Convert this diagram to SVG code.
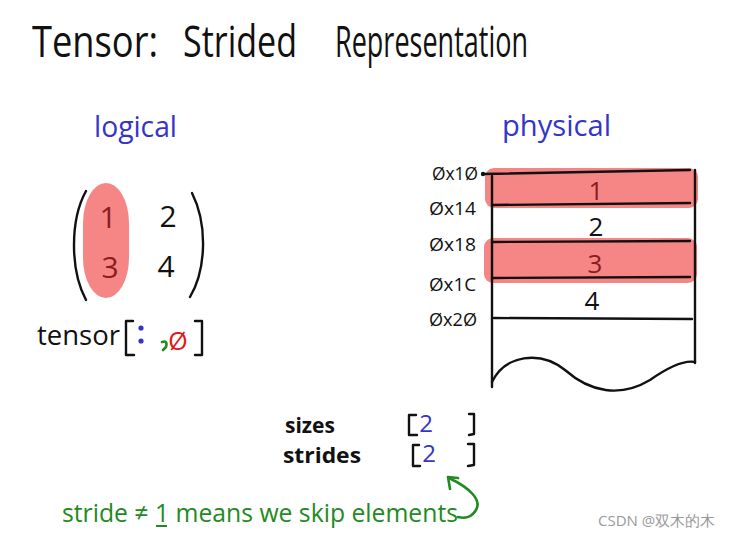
<svg xmlns="http://www.w3.org/2000/svg" width="750" height="538" viewBox="0 0 750 538">
<style>
text{font-family:"Open Sans","Liberation Sans",sans-serif}
.ink{fill:none;stroke:#111;stroke-width:2.4;stroke-linecap:round;stroke-linejoin:round}
.blue{fill:#3535c8}
.dred{fill:#8a1c1c}
.blk{fill:#111}
.grn{fill:#238a23}
.hl{fill:#f57878;opacity:0.9}
.addr{font-size:19px;fill:#111}
.ttl{font-size:44px;fill:#111}
</style>
<rect width="750" height="538" fill="#fff"/>
<g id="title">
<text x="32" y="57" class="ttl" textLength="126" lengthAdjust="spacingAndGlyphs">Tensor:</text>
<text x="183" y="57" class="ttl" textLength="114" lengthAdjust="spacingAndGlyphs">Strided</text>
<text x="335" y="57" class="ttl" textLength="193" lengthAdjust="spacingAndGlyphs">Representation</text>
</g>
<text x="94" y="137" font-size="30" textLength="83" lengthAdjust="spacingAndGlyphs" class="blue">logical</text>
<text x="502" y="136" font-size="30" textLength="109" lengthAdjust="spacingAndGlyphs" class="blue">physical</text>
<g id="logical">
<rect class="hl" x="83" y="183" width="46" height="115" rx="23" ry="40"/>
<path class="ink" d="M86,191 C70,220 70,270 86,300"/>
<path class="ink" d="M192,193 C208,225 206,270 190,297"/>
<text x="108" y="228" font-size="30" text-anchor="middle" class="dred">1</text>
<text x="168" y="227" font-size="30" text-anchor="middle" class="blk">2</text>
<text x="110" y="278" font-size="30" text-anchor="middle" class="dred">3</text>
<text x="166" y="277" font-size="30" text-anchor="middle" class="blk">4</text>
<text x="37" y="345" font-size="27" textLength="83" lengthAdjust="spacingAndGlyphs" class="blk">tensor</text>
<path class="ink" d="M133,321 L126,321 L126,355 L134,355"/>
<circle cx="141" cy="328" r="2.6" fill="#3535c8"/>
<circle cx="141" cy="341" r="2.6" fill="#3535c8"/>
<path d="M162,342 Q168,340 166,347 L163,350" fill="none" stroke="#238a23" stroke-width="2.6" stroke-linecap="round"/>
<text x="178" y="350" font-size="25" text-anchor="middle" fill="#e01818">Ø</text>
<path class="ink" d="M195,321 L202,321 L202,355 L195,355"/>
</g>
<g id="physical">
<rect class="hl" x="485" y="168" width="213" height="40" rx="9"/>
<rect class="hl" x="484" y="238" width="213" height="45" rx="9"/>
<path class="ink" d="M483,174 L690,170"/>
<circle cx="483" cy="174" r="2.2" fill="#111"/>
<path class="ink" d="M492,176 L492,387"/>
<path class="ink" d="M695,170 L695,363"/>
<path class="ink" d="M492,205 L690,203"/>
<path class="ink" d="M492,242 L690,241"/>
<path class="ink" d="M492,278 L690,277"/>
<path class="ink" d="M494,318 L692,319"/>
<path class="ink" d="M492,382 C505,355 540,350 565,370 C590,392 620,398 650,380 C670,366 685,360 695,362"/>
<text x="596" y="200" font-size="26" text-anchor="middle" class="dred">1</text>
<text x="596" y="236" font-size="26" text-anchor="middle" class="blk">2</text>
<text x="595" y="273" font-size="26" text-anchor="middle" class="dred">3</text>
<text x="592" y="310" font-size="26" text-anchor="middle" class="blk">4</text>
<text x="432" y="180" class="addr" textLength="46" lengthAdjust="spacingAndGlyphs">Øx1Ø</text>
<text x="429" y="215" class="addr" textLength="47" lengthAdjust="spacingAndGlyphs">Øx14</text>
<text x="429" y="251" class="addr" textLength="47" lengthAdjust="spacingAndGlyphs">Øx18</text>
<text x="429" y="291" class="addr" textLength="47" lengthAdjust="spacingAndGlyphs">Øx1C</text>
<text x="429" y="326" class="addr" textLength="48" lengthAdjust="spacingAndGlyphs">Øx2Ø</text>
</g>
<g id="meta">
<text x="285" y="433" font-size="22" font-weight="bold" textLength="50" lengthAdjust="spacingAndGlyphs" class="blk">sizes</text>
<text x="283" y="463" font-size="22" font-weight="bold" textLength="78" lengthAdjust="spacingAndGlyphs" class="blk">strides</text>
<path class="ink" d="M416,415 L409,415 L409,435 L417,435"/>
<text x="426" y="432" font-size="24" text-anchor="middle" class="blue">2</text>
<path class="ink" d="M469,414 L474,414 L474,434 L469,435"/>
<path class="ink" d="M419,445 L413,445 L413,466 L420,466"/>
<text x="429" y="462" font-size="24" text-anchor="middle" class="blue">2</text>
<path class="ink" d="M468,444 L474,444 L474,465 L468,466"/>
</g>
<g id="connectors">
<path d="M449,478 C470,488 482,500 476,510 C472,517 465,519 458,517" fill="none" stroke="#238a23" stroke-width="2.6" stroke-linecap="round"/>
<path d="M458,478 L448,477 L450,489" fill="none" stroke="#238a23" stroke-width="2.6" stroke-linecap="round" stroke-linejoin="round"/>
</g>
<text x="62" y="522" font-size="26" textLength="396" lengthAdjust="spacingAndGlyphs" class="grn">stride ≠ 1 means we skip elements</text>
<path d="M156,526 L167,526" stroke="#238a23" stroke-width="2"/>
<text x="598" y="526" font-size="15" fill="#9a9a9a" font-family="'Liberation Sans','Noto Sans CJK SC',sans-serif">CSDN @双木的木</text>
</svg>
